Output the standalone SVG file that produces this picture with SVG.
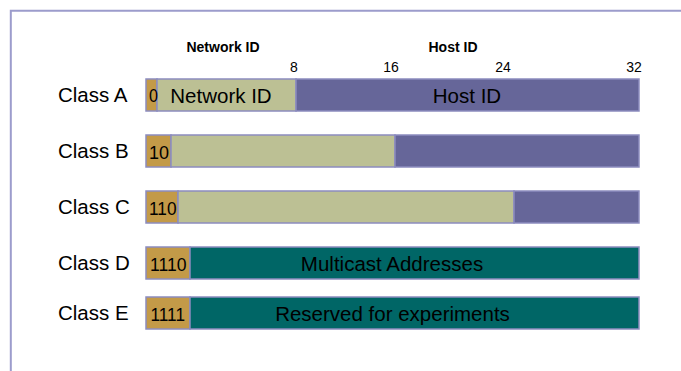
<svg xmlns="http://www.w3.org/2000/svg" width="681" height="371" viewBox="0 0 681 371">
<style>
  .frame{fill:none;stroke:#9c9ccc;stroke-width:2}
  .bar{stroke:#8c8cbf;stroke-width:1.5}
  .pre{fill:#c39a48}
  .net{fill:#bcc094}
  .host{fill:#666699}
  .teal{fill:#006666}
  text{font-family:"Liberation Sans",Arial,sans-serif;fill:#000}
  .cls{font-size:20.5px}
  .in{font-size:20.5px}
  .bit{font-size:19px}
  .num{font-size:14px;text-anchor:middle}
  .hdr{font-size:14px;font-weight:bold;text-anchor:middle}
  .mid{text-anchor:middle}
</style>
<rect width="681" height="371" fill="#fff"/>
<path class="frame" d="M10.8 371 V10.8 H681"/>
<g id="header">
  <text class="hdr" x="223" y="52">Network ID</text>
  <text class="hdr" x="453" y="52">Host ID</text>
  <text class="num" x="294" y="72">8</text>
  <text class="num" x="391" y="72">16</text>
  <text class="num" x="503" y="72">24</text>
  <text class="num" x="634" y="72">32</text>
</g>
<g id="classA">
  <text class="cls" x="58" y="102">Class A</text>
  <rect class="bar pre" x="146" y="79" width="11" height="32"/>
  <rect class="bar net" x="157" y="79" width="139" height="32"/>
  <rect class="bar host" x="296" y="79" width="343" height="32"/>
  <text class="bit" x="149" y="102" textLength="9" lengthAdjust="spacingAndGlyphs">0</text>
  <text class="in mid" x="221" y="103">Network ID</text>
  <text class="in mid" x="467" y="103">Host ID</text>
</g>
<g id="classB">
  <text class="cls" x="58" y="158">Class B</text>
  <rect class="bar pre" x="146" y="135" width="25" height="32"/>
  <rect class="bar net" x="171" y="135" width="224" height="32"/>
  <rect class="bar host" x="395" y="135" width="244" height="32"/>
  <text class="bit" x="149" y="159" textLength="20" lengthAdjust="spacingAndGlyphs">10</text>
</g>
<g id="classC">
  <text class="cls" x="58" y="214">Class C</text>
  <rect class="bar pre" x="146" y="191" width="32" height="32"/>
  <rect class="bar net" x="178" y="191" width="336" height="32"/>
  <rect class="bar host" x="514" y="191" width="125" height="32"/>
  <text class="bit" x="149" y="215" textLength="27.5" lengthAdjust="spacingAndGlyphs">110</text>
</g>
<g id="classD">
  <text class="cls" x="58" y="270">Class D</text>
  <rect class="bar pre" x="146" y="247" width="44" height="32"/>
  <rect class="bar teal" x="190" y="247" width="449" height="32"/>
  <text class="bit" x="150" y="271" textLength="36.5" lengthAdjust="spacingAndGlyphs">1110</text>
  <text class="in mid" x="392" y="271">Multicast Addresses</text>
</g>
<g id="classE">
  <text class="cls" x="58" y="320">Class E</text>
  <rect class="bar pre" x="146" y="297" width="44" height="32"/>
  <rect class="bar teal" x="190" y="297" width="449" height="32"/>
  <text class="bit" x="150.5" y="321" textLength="34.5" lengthAdjust="spacingAndGlyphs">1111</text>
  <text class="in mid" x="392.5" y="321">Reserved for experiments</text>
</g>
</svg>
